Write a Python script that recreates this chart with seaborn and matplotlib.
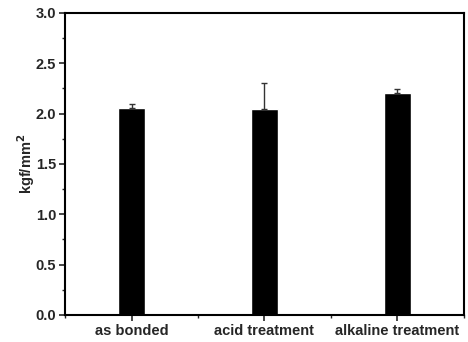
import matplotlib
matplotlib.use("Agg")
import matplotlib.pyplot as plt
from matplotlib.ticker import MultipleLocator, FixedLocator
import seaborn as sns
import pandas as pd

categories = ["as bonded", "acid treatment", "alkaline treatment"]
values = [2.055, 2.045, 2.21]
errors = [0.04, 0.26, 0.035]

sns.set_style("ticks")
plt.rcParams['font.family'] = ['Liberation Sans', 'DejaVu Sans']

df = pd.DataFrame({"cat": categories, "val": values})

fig = plt.figure(figsize=(4.68, 3.42), dpi=100)
ax = fig.add_axes([0.139, 0.079, 0.852, 0.883])
sns.barplot(data=df, x="cat", y="val", color="black", width=0.205,
            errorbar=None, ax=ax, saturation=1)
ax.errorbar(range(len(categories)), values, yerr=[[0]*3, errors],
            fmt="none", ecolor="#333333", elinewidth=1, capsize=2.5, capthick=1)

ax.set_xlim(-0.5, 2.5)
ax.set_ylim(0, 3.0)
ax.yaxis.set_major_locator(MultipleLocator(0.5))
ax.yaxis.set_minor_locator(MultipleLocator(0.25))
ax.xaxis.set_minor_locator(FixedLocator([-0.5, 0.5, 1.5, 2.5]))
ax.set_yticks([0, 0.5, 1.0, 1.5, 2.0, 2.5, 3.0])
ax.set_yticklabels(["0.0", "0.5", "1.0", "1.5", "2.0", "2.5", "3.0"])

for s in ax.spines.values():
    s.set_visible(True)
    s.set_linewidth(1.5)
    s.set_color("black")

ax.tick_params(axis="both", which="major", direction="out", length=4, width=1.2,
               labelsize=10.5, top=False, right=False, pad=2.5)
ax.tick_params(axis="both", which="minor", direction="out", length=2.5, width=1,
               top=False, right=False)
for lbl in ax.get_xticklabels() + ax.get_yticklabels():
    lbl.set_fontweight("bold")

ax.set_xlabel("")
ax.set_ylabel("kgf/mm$^\\mathbf{2}$", fontsize=10.5, fontweight="bold", labelpad=-1)

fig.savefig("out.png", dpi=100)
